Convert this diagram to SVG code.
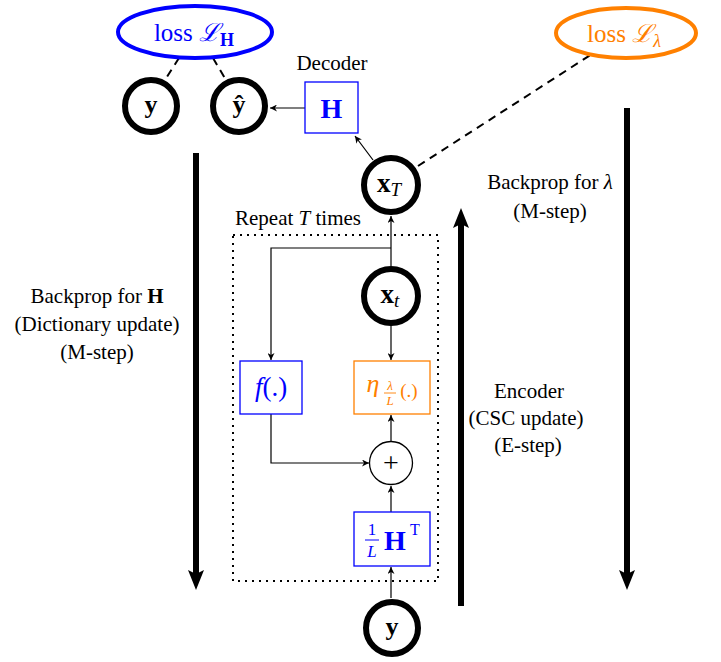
<svg xmlns="http://www.w3.org/2000/svg" width="721" height="662" viewBox="0 0 721 662">
<defs>
<marker id="ah" viewBox="0 0 10 10" refX="10" refY="5" markerWidth="7" markerHeight="7" markerUnits="userSpaceOnUse" orient="auto">
<path d="M0,0 L10,5 L0,10 L3,5 Z" fill="#000"/>
</marker>
</defs>
<style>
text{font-family:"Liberation Serif","DejaVu Serif",serif;}
.lbl{font-size:21px;fill:#000;text-anchor:middle;}
.thick{fill:none;stroke:#000;stroke-width:6;}
.node{fill:#fff;stroke:#000;stroke-width:6;}
.conn{fill:none;stroke:#000;stroke-width:1.2;marker-end:url(#ah);}
.dash{fill:none;stroke:#000;stroke-width:2;stroke-dasharray:8,6;}
.bbox{fill:#fff;stroke:#0000ff;stroke-width:1.3;}
.obox{fill:#fff;stroke:#ff8000;stroke-width:1.3;}
.bold{font-weight:bold;}
</style>

<g id="connectors">
<line class="dash" x1="179" y1="58" x2="165" y2="80"/>
<line class="dash" x1="213" y1="58" x2="226" y2="80"/>
<line class="dash" x1="418" y1="166" x2="592" y2="54"/>
<line class="conn" x1="305" y1="108" x2="270" y2="108"/>
<line class="conn" x1="373" y1="160" x2="355" y2="136"/>
<line class="conn" x1="391" y1="266" x2="391" y2="216"/>
<polyline class="conn" points="391,248 271,248 271,360"/>
<polyline class="conn" points="271,414 271,463 369,463"/>
<line class="conn" x1="391" y1="441" x2="391" y2="415"/>
<line class="conn" x1="391" y1="512" x2="391" y2="486"/>
<line class="conn" x1="391" y1="598" x2="391" y2="567"/>
<line class="conn" x1="391" y1="325" x2="391" y2="360"/>
</g>

<g id="repeat">
<rect x="233" y="235" width="205" height="346" fill="none" stroke="#000" stroke-width="2" stroke-dasharray="2,5"/>
<text x="298" y="225" class="lbl">Repeat <tspan font-style="italic">T</tspan> times</text>
</g>

<g id="loss_H">
<ellipse cx="195" cy="32" rx="77" ry="26" fill="#fff" stroke="#0000ff" stroke-width="4"/>
<text x="194" y="41" font-size="25" fill="#0000ff" text-anchor="middle">loss <tspan font-style="italic">ℒ</tspan><tspan class="bold" font-size="18" dy="5">H</tspan></text>
</g>

<g id="loss_lambda">
<ellipse cx="626" cy="33" rx="70" ry="25" fill="#fff" stroke="#ff8000" stroke-width="4"/>
<text x="624" y="42" font-size="25" fill="#ff8000" text-anchor="middle">loss <tspan font-style="italic">ℒ</tspan><tspan font-style="italic" font-size="18" dy="5">λ</tspan></text>
</g>

<g id="y_top">
<circle class="node" cx="151" cy="106" r="26"/>
<text x="151" y="113" font-size="26" class="bold" text-anchor="middle">y</text>
</g>

<g id="y_hat">
<circle class="node" cx="239" cy="106" r="26"/>
<text x="239" y="113" font-size="26" class="bold" text-anchor="middle">ŷ</text>
</g>

<g id="decoder">
<text x="332" y="70" class="lbl">Decoder</text>
<rect class="bbox" x="305" y="82" width="53" height="51"/>
<text x="331.5" y="118" font-size="28" class="bold" fill="#0000ff" text-anchor="middle">H</text>
</g>

<g id="x_T">
<circle class="node" cx="391" cy="185" r="27"/>
<text x="389" y="192" font-size="27" class="bold" text-anchor="middle">x<tspan font-weight="normal" font-style="italic" font-size="19" dy="4">T</tspan></text>
</g>

<g id="x_t">
<circle class="node" cx="391" cy="296" r="27"/>
<text x="390" y="303" font-size="27" class="bold" text-anchor="middle">x<tspan font-weight="normal" font-style="italic" font-size="19" dy="4">t</tspan></text>
</g>

<g id="f">
<rect class="bbox" x="240" y="361" width="62" height="53"/>
<text x="271" y="396" font-size="27" fill="#0000ff" text-anchor="middle"><tspan font-style="italic">f</tspan>(.)</text>
</g>

<g id="eta">
<rect class="obox" x="354" y="361" width="76" height="53"/>
<text x="373" y="392" font-size="26" fill="#ff8000" font-style="italic" text-anchor="middle">η</text>
<text x="390" y="390" font-size="13" fill="#ff8000" font-style="italic" text-anchor="middle">λ</text>
<line x1="384" y1="393" x2="396" y2="393" stroke="#ff8000" stroke-width="0.9"/>
<text x="390" y="405" font-size="13" fill="#ff8000" font-style="italic" text-anchor="middle">L</text>
<text x="409" y="397" font-size="19" fill="#ff8000" text-anchor="middle">(.)</text>
</g>

<g id="plus">
<circle cx="391" cy="463" r="21.5" fill="#fff" stroke="#000" stroke-width="1.3"/>
<text x="391" y="472" font-size="28" text-anchor="middle" font-family="Liberation Sans, sans-serif">+</text>
</g>

<g id="HT">
<rect class="bbox" x="354" y="512" width="76" height="54"/>
<text x="372" y="535" font-size="17" fill="#0000ff" text-anchor="middle">1</text>
<line x1="365" y1="540" x2="379" y2="540" stroke="#0000ff" stroke-width="1"/>
<text x="372" y="557" font-size="17" fill="#0000ff" font-style="italic" text-anchor="middle">L</text>
<text x="395" y="550" font-size="28" class="bold" fill="#0000ff" text-anchor="middle">H</text>
<text x="415" y="535" font-size="16" fill="#0000ff" text-anchor="middle">T</text>
</g>

<g id="y_bottom">
<circle class="node" cx="392" cy="628" r="26"/>
<text x="392" y="635" font-size="26" class="bold" text-anchor="middle">y</text>
</g>

<g id="backprop_H">
<line class="thick" x1="196" y1="153" x2="196" y2="574"/>
<polygon points="188,570 196,574 204,570 196,590" fill="#000"/>
<text x="97" y="303" class="lbl">Backprop for <tspan class="bold">H</tspan></text>
<text x="97" y="331" class="lbl">(Dictionary update)</text>
<text x="97" y="359" class="lbl">(M-step)</text>
</g>

<g id="encoder_arrow">
<line class="thick" x1="461" y1="606" x2="461" y2="224"/>
<polygon points="453,228 461,224 469,228 461,208" fill="#000"/>
<text x="529" y="398" class="lbl">Encoder</text>
<text x="526" y="425" class="lbl">(CSC update)</text>
<text x="528" y="452" class="lbl">(E-step)</text>
</g>

<g id="backprop_lambda">
<line class="thick" x1="627" y1="108" x2="627" y2="574"/>
<polygon points="619,570 627,574 635,570 627,590" fill="#000"/>
<text x="550" y="189" class="lbl">Backprop for <tspan font-style="italic">λ</tspan></text>
<text x="550" y="218" class="lbl">(M-step)</text>
</g>
</svg>
